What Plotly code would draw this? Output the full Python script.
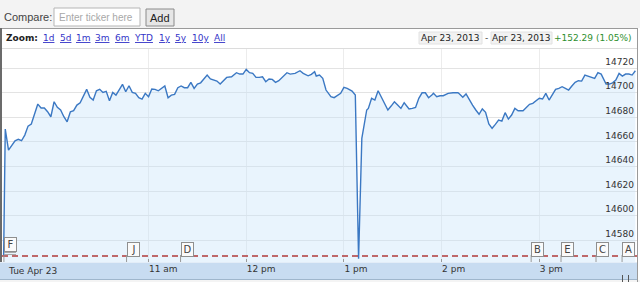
import plotly.graph_objects as go

DAY = "2013-04-23 "

times = ["09:31","09:32","09:34","09:36","09:38","09:40","09:42","09:44","09:46","09:48",
         "09:50","09:52","09:54","09:56","09:58","10:00","10:02","10:04","10:06","10:08",
         "10:10","10:12","10:14","10:16","10:18","10:20","10:22","10:24","10:26","10:28",
         "10:30","10:32","10:34","10:36","10:38","10:40","10:42","10:44","10:46","10:48",
         "10:50","10:52","10:54","10:56","10:58","11:00","11:02","11:04","11:06","11:09",
         "11:10","11:12","11:14","11:16","11:18","11:20","11:22","11:24","11:26","11:28",
         "11:30","11:32","11:34","11:36","11:38","11:42","11:44","11:46","11:48","11:51",
         "11:54","11:56","11:58","12:00","12:02","12:04","12:06","12:08","12:10","12:12",
         "12:14","12:16","12:18","12:20","12:22","12:25","12:27","12:30","12:33","12:35",
         "12:38","12:40","12:42","12:43","12:45","12:47","12:49","12:52","12:54","12:56",
         "12:58","13:00","13:02","13:05","13:07","13:09","13:11","13:14","13:15","13:17",
         "13:19","13:21","13:23","13:25","13:27","13:29","13:31","13:33","13:35","13:37",
         "13:40","13:42","13:44","13:46","13:48","13:50","13:52","13:54","13:55","13:57",
         "13:59","14:01","14:04","14:07","14:10","14:11","14:13","14:15","14:17","14:19",
         "14:21","14:23","14:25","14:27","14:29","14:31","14:33","14:35","14:37","14:39",
         "14:41","14:43","14:45","14:47","14:50","14:52","14:54","14:56","14:58","15:00",
         "15:02","15:04","15:06","15:08","15:10","15:12","15:14","15:16","15:18","15:20",
         "15:22","15:24","15:26","15:28","15:30","15:32","15:34","15:36","15:38","15:41",
         "15:43","15:45","15:47","15:49","15:51","15:53","15:55","15:57","15:59"]

values = [14567.0,14670.4,14653.3,14657.4,14660.9,14662.0,14660.9,14665.5,14672.8,14674.5,
          14683.4,14690.7,14687.5,14687.5,14684.5,14680.4,14692.6,14688.0,14685.9,14680.4,
          14676.3,14684.5,14685.3,14689.9,14691.8,14696.7,14702.7,14696.2,14694.0,14701.5,
          14702.7,14700.2,14701.1,14693.4,14700.2,14698.0,14702.7,14706.7,14700.7,14705.6,
          14700.2,14699.4,14695.9,14694.8,14699.4,14696.7,14702.9,14702.7,14701.5,14704.8,
          14705.4,14695.9,14698.0,14698.6,14704.0,14705.4,14704.0,14704.0,14708.4,14703.5,
          14707.0,14708.0,14711.1,14714.3,14711.1,14709.4,14707.0,14709.7,14712.4,14712.9,
          14716.2,14715.1,14715.1,14718.9,14716.2,14715.7,14712.4,14712.4,14712.9,14708.9,
          14711.1,14710.8,14708.4,14709.7,14712.4,14716.2,14715.1,14715.7,14717.8,14715.7,
          14713.7,14714.9,14717.0,14713.5,14714.3,14711.6,14702.1,14696.7,14695.9,14697.5,
          14699.4,14704.3,14703.5,14701.3,14698.0,14565.0,14662.8,14685.9,14687.2,14695.4,
          14694.0,14701.5,14696.7,14691.3,14685.9,14689.1,14692.6,14689.9,14687.2,14691.8,
          14686.7,14687.2,14688.0,14695.4,14699.9,14699.9,14695.9,14698.0,14699.4,14696.7,
          14697.5,14697.5,14699.4,14699.9,14699.9,14698.9,14696.2,14698.9,14694.0,14689.9,
          14685.9,14682.4,14686.7,14684.0,14674.5,14671.0,14674.2,14677.7,14676.9,14683.7,
          14678.5,14681.8,14687.2,14685.3,14685.3,14688.0,14690.5,14691.3,14693.2,14695.4,
          14694.8,14699.4,14694.0,14698.6,14702.7,14703.5,14704.8,14703.5,14702.1,14705.4,
          14708.4,14709.7,14709.4,14714.3,14713.5,14712.4,14711.6,14716.2,14715.1,14707.0,
          14707.0,14708.0,14710.2,14715.7,14713.5,14715.1,14715.1,14714.3,14717.8]

prev_close = 14567.17

y_ticks = [14580, 14600, 14620, 14640, 14660, 14680, 14700, 14720]
hour_ticks = ["11:00", "12:00", "13:00", "14:00", "15:00"]
hour_labels = ["11 am", "12 pm", "1 pm", "2 pm", "3 pm"]

flag_letters = ["F", "J", "D", "B", "E", "C", "A"]
flag_times = ["09:31:10", "10:46:30", "11:19:40", "14:55:00", "15:13:20", "15:34:50", "15:50:50"]

zoom_links = ["1d", "5d", "1m", "3m", "6m", "YTD", "1y", "5y", "10y", "All"]
date_from = "Apr 23, 2013"
date_to = "Apr 23, 2013"
change_text = "+152.29 (1.05%)"

W, H = 640, 282
VERD = "DejaVu Sans"


def px(x):
    return x / W


def py(y):
    return 1 - y / H


fig = go.Figure()
fig.add_trace(go.Scatter(
    x=[DAY + t for t in times], y=values, mode="lines",
    line=dict(color="#3b78c3", width=1.4),
    fill="tozeroy", fillcolor="rgba(200,228,250,0.40)",
    hoverinfo="skip", showlegend=False,
))

shapes = []
# header background
shapes.append(dict(type="rect", xref="paper", yref="paper", x0=0, x1=1, y0=py(28), y1=1,
                   fillcolor="#f3f3f3", line=dict(width=0), layer="below"))
# input box & button
shapes.append(dict(type="rect", xref="paper", yref="paper", x0=px(54), x1=px(140), y0=py(26), y1=py(8),
                   fillcolor="#ffffff", line=dict(color="#b5b5b5", width=1), layer="below"))
shapes.append(dict(type="rect", xref="paper", yref="paper", x0=px(146), x1=px(174), y0=py(26), y1=py(9),
                   fillcolor="#e6e6e6", line=dict(color="#8a8a8a", width=1), layer="below"))
# chart box borders
shapes.append(dict(type="line", xref="paper", yref="paper", x0=0, x1=px(638), y0=py(28.5), y1=py(28.5),
                   line=dict(color="#9a9a9a", width=1)))
shapes.append(dict(type="line", xref="paper", yref="paper", x0=px(1), x1=px(1), y0=py(262), y1=py(28),
                   line=dict(color="#6b6b6b", width=2)))
shapes.append(dict(type="line", xref="paper", yref="paper", x0=px(637.5), x1=px(637.5), y0=0, y1=py(28),
                   line=dict(color="#9a9a9a", width=1)))
shapes.append(dict(type="line", xref="paper", yref="paper", x0=px(2), x1=px(637), y0=py(48.5), y1=py(48.5),
                   line=dict(color="#dcdcdc", width=1)))
# date boxes
for x0, x1 in [(419, 482), (491, 552)]:
    shapes.append(dict(type="rect", xref="paper", yref="paper", x0=px(x0), x1=px(x1), y0=py(44), y1=py(32),
                       fillcolor="#f2f2f2", line=dict(color="#e2e2e2", width=1), layer="below"))
# x-axis band
shapes.append(dict(type="rect", xref="paper", yref="paper", x0=px(0), x1=px(637), y0=py(279), y1=py(262.5),
                   fillcolor="#c8dcf1", line=dict(width=0), layer="below"))
shapes.append(dict(type="line", xref="paper", yref="paper", x0=0, x1=px(637), y0=py(279.5), y1=py(279.5),
                   line=dict(color="#9fb6cc", width=1)))
shapes.append(dict(type="rect", xref="paper", yref="paper", x0=0, x1=1, y0=0, y1=py(280),
                   fillcolor="#f4f4f4", line=dict(width=0), layer="below"))
for xx in (622.5, 628.5):
    shapes.append(dict(type="line", xref="paper", yref="paper", x0=px(xx), x1=px(xx), y0=0, y1=py(275),
                       line=dict(color="#555555", width=1)))
# previous close dashed line
shapes.append(dict(type="line", xref="paper", yref="y", x0=px(2), x1=px(637), y0=prev_close, y1=prev_close,
                   line=dict(color="#b03a3a", width=1.5, dash="6px,4px")))
# flag stems
for ft in flag_times:
    shapes.append(dict(type="line", xref="x", yref="paper", x0=DAY + ft, x1=DAY + ft,
                       y0=py(262), y1=py(255), line=dict(color="#9a9a9a", width=1)))
# stacked lines under F
for yy in (252.5, 254.5):
    shapes.append(dict(type="line", xref="paper", yref="paper", x0=px(4), x1=px(16), y0=py(yy), y1=py(yy),
                       line=dict(color="#a8a8a8", width=1)))

ann = []
ann.append(dict(text="Compare:", x=px(2), y=py(17), xref="paper", yref="paper", xanchor="left",
                yanchor="middle", showarrow=False, font=dict(family="Liberation Sans", size=11, color="#444")))
ann.append(dict(text="Enter ticker here", x=px(57), y=py(17), xref="paper", yref="paper", xanchor="left",
                yanchor="middle", showarrow=False, font=dict(family="Liberation Sans", size=10, color="#a8a8a8")))
ann.append(dict(text="Add", x=px(160), y=py(17.5), xref="paper", yref="paper", xanchor="center",
                yanchor="middle", showarrow=False, font=dict(family="Liberation Sans", size=11, color="#222")))
ann.append(dict(text="<b>Zoom:</b>", x=px(4), y=py(38), xref="paper", yref="paper", xanchor="left",
                yanchor="middle", showarrow=False, font=dict(family=VERD, size=9, color="#222")))
link_x = [41, 57.5, 74, 93, 112.5, 131.5, 157, 172.5, 190, 211.5]
for lx, lt in zip(link_x, zoom_links):
    ann.append(dict(text='<span style="text-decoration:underline">' + lt + '</span>', x=px(lx), y=py(38),
                    xref="paper", yref="paper", xanchor="left", yanchor="middle", showarrow=False,
                    font=dict(family=VERD, size=9, color="#3434c8")))
ann.append(dict(text=date_from, x=px(450.5), y=py(38), xref="paper", yref="paper", xanchor="center",
                yanchor="middle", showarrow=False, font=dict(family=VERD, size=9, color="#222")))
ann.append(dict(text="-", x=px(486.5), y=py(38), xref="paper", yref="paper", xanchor="center",
                yanchor="middle", showarrow=False, font=dict(family=VERD, size=9, color="#444")))
ann.append(dict(text=date_to, x=px(521.5), y=py(38), xref="paper", yref="paper", xanchor="center",
                yanchor="middle", showarrow=False, font=dict(family=VERD, size=9, color="#222")))
ann.append(dict(text=change_text, x=px(634), y=py(38), xref="paper", yref="paper", xanchor="right",
                yanchor="middle", showarrow=False, font=dict(family=VERD, size=9, color="#2f8f2f")))
ann.append(dict(text="Tue Apr 23", x=px(6), y=py(271), xref="paper", yref="paper", xanchor="left",
                yanchor="middle", showarrow=False, font=dict(family=VERD, size=9, color="#333")))
for fl, ft in zip(flag_letters, flag_times):
    yc = 244.5 if fl == "F" else 249.5
    ann.append(dict(text=fl, x=DAY + ft, y=py(yc), xref="x", yref="paper", xanchor="left",
                    yanchor="middle", showarrow=False, width=9, height=11, borderpad=1,
                    bgcolor="#fafafa", bordercolor="#8f8f8f", borderwidth=1,
                    font=dict(family=VERD, size=10, color="#444")))

fig.update_layout(
    width=W, height=H, margin=dict(l=0, r=0, t=0, b=0),
    paper_bgcolor="#ffffff", plot_bgcolor="rgba(0,0,0,0)",
    shapes=shapes, annotations=ann, showlegend=False,
    xaxis=dict(type="date", domain=[px(2), px(637)],
               range=[DAY + "09:30", DAY + "16:00"],
               tickvals=[DAY + h for h in hour_ticks], ticktext=hour_labels,
               ticklabelposition="outside right", ticks="inside", ticklen=3, tickcolor="#999",
               showgrid=True, gridcolor="#ececec", gridwidth=1, zeroline=False, showline=False,
               tickfont=dict(family=VERD, size=9, color="#333"), fixedrange=True),
    yaxis=dict(domain=[py(262), py(48)], range=[14562.3, 14736.3], side="right",
               tickvals=y_ticks, tickformat="d", ticklabelposition="inside top",
               showgrid=True, gridcolor="#e3e3e3", gridwidth=1, zeroline=False, showline=False,
               ticks="", tickfont=dict(family=VERD, size=9, color="#333"), fixedrange=True),
)

fig.write_html("out.html")
